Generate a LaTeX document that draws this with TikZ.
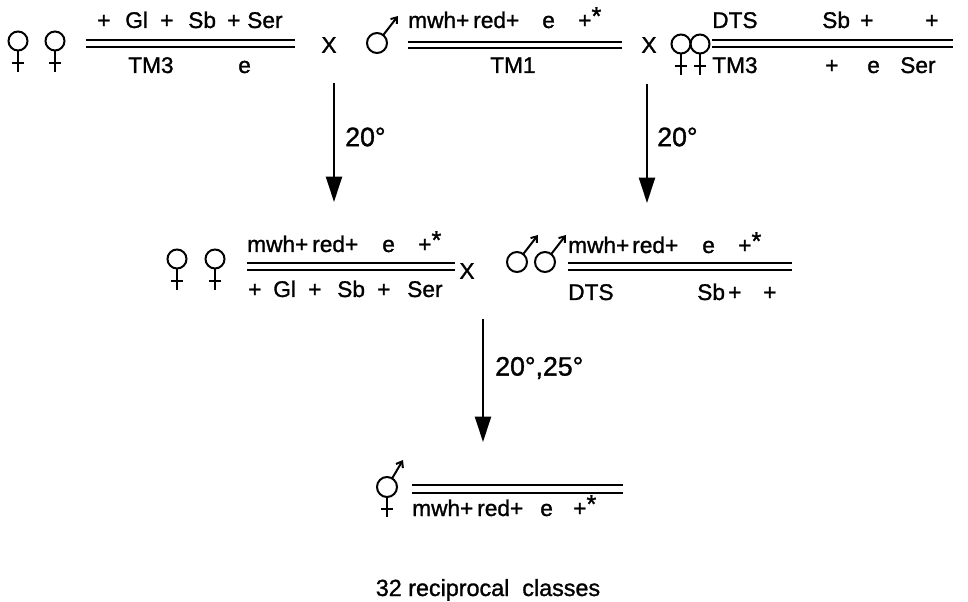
\documentclass[tikz,border=0pt]{standalone}
\usepackage{fontspec}
\setmainfont{Liberation Sans}[FakeBold=1.2]
\usetikzlibrary{arrows.meta}

\newcommand{\tstar}{\raisebox{2.5pt}{\fontsize{19}{19}\selectfont *}}

\tikzset{
  gen/.style={font=\fontsize{17}{18}\selectfont, inner sep=0pt, anchor=base west},
  xsign/.style={font=\fontsize{17}{18}\selectfont, inner sep=0pt},
  temp/.style={font=\fontsize{20}{22}\selectfont, inner sep=0pt, anchor=west},
  bar/.style={line width=1.5pt},
  gen arrow/.style={line width=1.6pt, -{Triangle[length=19pt,width=12pt]}},
  sym/.style={line width=1.5pt},
  femsym/.pic={
    \draw[sym] (0,0) circle[radius=9.5];
    \draw[sym] (0,9.5) -- (0,31);
    \draw[sym] (-6,22) -- (6,22);
  },
  malesym/.pic={
    \draw[sym] (0,0) circle[radius=10];
    \draw[sym, -{Straight Barb[length=4pt,width=6pt]}] (6.2,-7.9) -- (21,-27);
  },
  hermsym/.pic={
    \draw[sym] (0,0) circle[radius=10];
    \draw[sym] (0,10) -- (0,30);
    \draw[sym] (-6,22) -- (6,22);
    \draw[sym, -{Straight Barb[length=4pt,width=6pt]}] (5.1,-8.6) -- (16,-27);
  }
}

\begin{document}
\begin{tikzpicture}[x=0.75pt,y=-0.75pt]
  \useasboundingbox (0,0) rectangle (968,602);

  % first row: parents
  \pic at (18,41) {femsym};
  \pic at (55,41) {femsym};
  \draw[bar] (86,40) -- (295,40);
  \draw[bar] (86,47) -- (295,47);
  \foreach \x/\t [count=\i] in {97/+,125/Gl,160/+,188/Sb,227/+,247/Ser}
    \node[gen] (f1t\i) at (\x,28) {\t};
  \foreach \x/\t [count=\i] in {128/TM3,238/e}
    \node[gen] (f1b\i) at (\x,73) {\t};
  \node[xsign] (x1) at (329,45) {X};

  \pic at (377,43) {malesym};
  \draw[bar] (408,42) -- (622,42);
  \draw[bar] (408,48) -- (622,48);
  \foreach \x/\t [count=\i] in {408/mwh+,473/red+,542/e,578/+\tstar}
    \node[gen] (f2t\i) at (\x,28) {\t};
  \node[gen] (f2b1) at (490,73) {TM1};
  \node[xsign] (x2) at (649,45) {X};

  \pic at (681,44) {femsym};
  \pic at (700,44) {femsym};
  \draw[bar] (712,40) -- (953,40);
  \draw[bar] (712,47) -- (953,47);
  \foreach \x/\t [count=\i] in {712/DTS,822/Sb,860/+,925/+}
    \node[gen] (f3t\i) at (\x,28) {\t};
  \foreach \x/\t [count=\i] in {712/TM3,825/+,867/e,900/Ser}
    \node[gen] (f3b\i) at (\x,73) {\t};

  % arrows to second row
  \coordinate (a1s) at (334,83);
  \coordinate (a1e) at (334,202);
  \coordinate (a2s) at (647,84);
  \coordinate (a2e) at (647,203);
  \draw[gen arrow] (a1s) -- (a1e);
  \draw[gen arrow] (a2s) -- (a2e);
  \node[temp] (t1) at (345,137) {20°};
  \node[temp] (t2) at (657,137) {20°};

  % second row
  \pic at (177,259) {femsym};
  \pic at (215,259) {femsym};
  \draw[bar] (247,263) -- (455,263);
  \draw[bar] (247,270) -- (455,270);
  \foreach \x/\t [count=\i] in {247/mwh+,312/red+,382/e,418/+\tstar}
    \node[gen] (f4t\i) at (\x,252) {\t};
  \foreach \x/\t [count=\i] in {248/+,273/Gl,308/+,337/Sb,377/+,407/Ser}
    \node[gen] (f4b\i) at (\x,297) {\t};
  \node[xsign] (x3) at (467,271) {X};

  \pic at (517,262) {malesym};
  \pic at (545,262) {malesym};
  \draw[bar] (568,263) -- (792,263);
  \draw[bar] (568,270) -- (792,270);
  \foreach \x/\t [count=\i] in {568/mwh+,632/red+,702/e,738/+\tstar}
    \node[gen] (f5t\i) at (\x,253) {\t};
  \foreach \x/\t [count=\i] in {568/DTS,697/Sb,728/+,763/+}
    \node[gen] (f5b\i) at (\x,300) {\t};

  % arrow to third row
  \coordinate (a3s) at (483,319);
  \coordinate (a3e) at (483,442);
  \draw[gen arrow] (a3s) -- (a3e);
  \node[temp] (t3) at (495,368) {20°,25°};

  % third row
  \pic at (387,487) {hermsym};
  \draw[bar] (412,485) -- (623,485);
  \draw[bar] (412,493) -- (623,493);
  \foreach \x/\t [count=\i] in {412/mwh+,477/red+,540/e,573/+\tstar}
    \node[gen] (f6b\i) at (\x,516) {\t};

  \node[font=\fontsize{17.5}{19}\selectfont, inner sep=0pt, anchor=base] (cls) at (488,596) {32 reciprocal\ \ classes};
\end{tikzpicture}
\end{document}
